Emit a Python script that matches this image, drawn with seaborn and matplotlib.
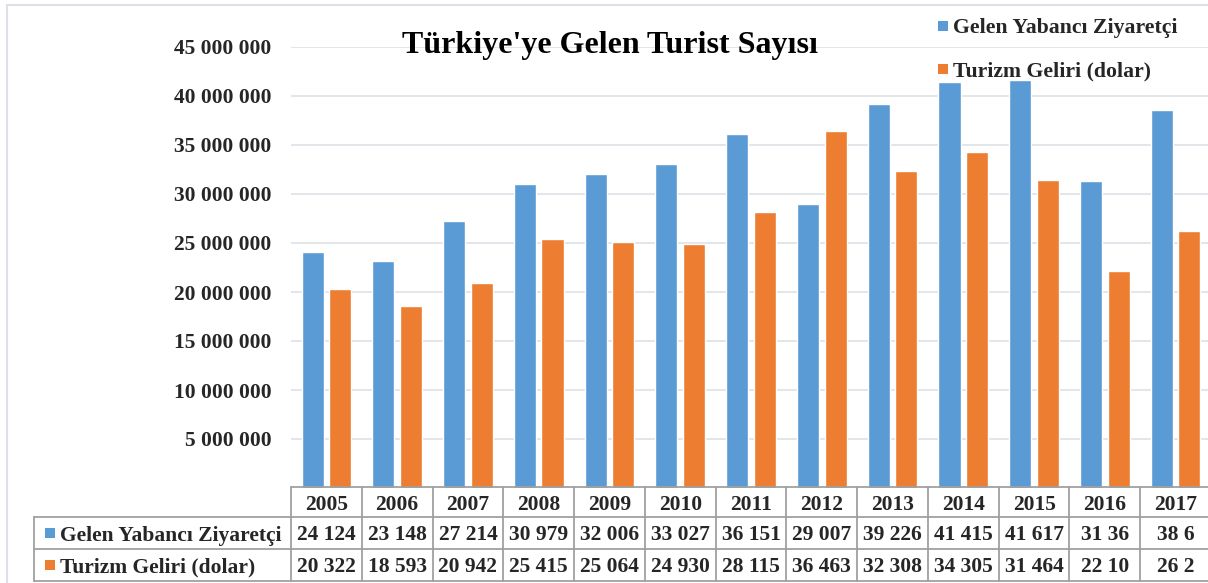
import matplotlib
matplotlib.use("Agg")
import matplotlib.pyplot as plt
import matplotlib.transforms as mtrans
from matplotlib.lines import Line2D
from matplotlib.patches import Rectangle
import seaborn as sns
import pandas as pd

# ---------------- data ----------------
years = ["2005", "2006", "2007", "2008", "2009", "2010", "2011",
         "2012", "2013", "2014", "2015", "2016", "2017"]
series = ["Gelen Yabancı Ziyaretçi", "Turizm Geliri (dolar)"]
visitors = [24124000, 23148000, 27214000, 30979000, 32006000, 33027000, 36151000,
            29007000, 39226000, 41415000, 41617000, 31365000, 38620000]
revenue = [20322000, 18593000, 20942000, 25415000, 25064000, 24930000, 28115000,
           36463000, 32308000, 34305000, 31464000, 22107000, 26250000]
visitor_labels = ["24 124", "23 148", "27 214", "30 979", "32 006", "33 027", "36 151",
                  "29 007", "39 226", "41 415", "41 617", "31 36", "38 6"]
revenue_labels = ["20 322", "18 593", "20 942", "25 415", "25 064", "24 930", "28 115",
                  "36 463", "32 308", "34 305", "31 464", "22 10", "26 2"]
yticks = [5000000, 10000000, 15000000, 20000000, 25000000,
          30000000, 35000000, 40000000, 45000000]
ytick_labels = ["5 000 000", "10 000 000", "15 000 000", "20 000 000", "25 000 000",
                "30 000 000", "35 000 000", "40 000 000", "45 000 000"]
title = "Türkiye'ye Gelen Turist Sayısı"

BLUE = "#5B9BD5"
ORANGE = "#ED7D31"
GRID = "#DDE1E7"
BORDER = "#A0A0A0"
FS = 15.5

sns.set_theme(style="white")
plt.rcParams['font.family'] = ['Liberation Serif', 'DejaVu Serif']
plt.rcParams['font.weight'] = 'bold'

df = pd.DataFrame({
    "Yıl": years * 2,
    "Seri": [series[0]] * len(years) + [series[1]] * len(years),
    "Değer": visitors + revenue,
})

W, H = 1208, 583
fig = plt.figure(figsize=(W / 100, H / 100), dpi=100)
fig.patch.set_facecolor("white")

ax = fig.add_axes([291 / W, (H - 488) / H, (1211 - 291) / W, (488 - 47) / H])
sns.barplot(data=df, x="Yıl", y="Değer", hue="Seri", palette=[BLUE, ORANGE],
            width=0.78, gap=0.2, ax=ax, legend=False, saturation=1)
ax.set_xlim(-0.5, len(years) - 0.5)
ax.set_ylim(0, 45000000)
ax.set_yticks(yticks)
ax.set_yticklabels(ytick_labels, fontsize=FS, fontweight="bold")
ax.tick_params(axis="y", length=0, pad=14)
ax.set_xticks([])
ax.set_xlabel("")
ax.set_ylabel("")
ax.grid(axis="y", color=GRID, lw=1.2)
ax.set_axisbelow(True)
for s in ax.spines.values():
    s.set_visible(False)

# outer chart frame
fig.add_artist(Rectangle((7 / W, -0.1), 1.2, 1 - 5 / H + 0.1, transform=fig.transFigure,
                         fill=False, edgecolor=GRID, lw=1.5))

# title
fig.text(610 / W, 1 - 46 / H, title, ha="center", va="center",
         fontsize=23, fontweight="bold", color="black")

# legend (manual, top right)
for i, (name, col) in enumerate(zip(series, [BLUE, ORANGE])):
    yc = 26 + i * 43
    fig.add_artist(Rectangle((938 / W, 1 - (yc + 5) / H), 10 / W, 10 / H,
                             transform=fig.transFigure, color=col, lw=0))
    fig.text(953 / W, 1 - yc / H, name, ha="left", va="center_baseline",
             fontsize=FS + 0.2, fontweight="bold")

# data table below
bt = mtrans.blended_transform_factory(ax.transData, fig.transFigure)
rows_px = [487, 517, 549, 581]
fy = [1 - p / H for p in rows_px]
xleft = ax.transData.inverted().transform((34, 0))[0]
n = len(years)

def hline(x0, x1, y):
    fig.add_artist(Line2D([x0, x1], [y, y], transform=bt, color=BORDER, lw=1.3, clip_on=False))

def vline(x, y0, y1):
    fig.add_artist(Line2D([x, x], [y0, y1], transform=bt, color=BORDER, lw=1.3, clip_on=False))

hline(-0.5, n - 0.5, fy[0])
hline(xleft, n - 0.5, fy[1])
hline(xleft, n - 0.5, fy[2])
hline(xleft, n - 0.5, fy[3])
vline(xleft, fy[1], fy[3])
for i in range(n + 1):
    vline(i - 0.5, fy[0], fy[3])

for i in range(n):
    fig.text(i, (fy[0] + fy[1]) / 2, years[i], transform=bt, ha="center",
             va="center_baseline", fontsize=FS, fontweight="bold")
    fig.text(i, (fy[1] + fy[2]) / 2, visitor_labels[i], transform=bt, ha="center",
             va="center_baseline", fontsize=FS, fontweight="bold")
    fig.text(i, (fy[2] + fy[3]) / 2, revenue_labels[i], transform=bt, ha="center",
             va="center_baseline", fontsize=FS, fontweight="bold")

for name, col, r in zip(series, [BLUE, ORANGE], [1, 2]):
    yc = (rows_px[r] + rows_px[r + 1]) / 2
    fig.add_artist(Rectangle((45 / W, 1 - (yc + 5) / H), 10 / W, 10 / H,
                             transform=fig.transFigure, color=col, lw=0))
    fig.text(60 / W, 1 - yc / H, name, ha="left", va="center_baseline",
             fontsize=FS, fontweight="bold")

fig.savefig("out.png", dpi=100)
